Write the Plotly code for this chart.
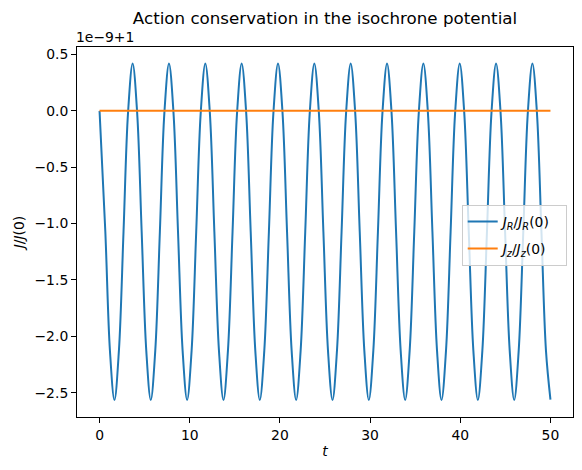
import plotly.graph_objects as go

# time samples (extrema and intermediate points of each cycle)
t_R = [0.0, 0.64, 1.15,
       1.65, 2.15, 2.66, 3.16, 3.67, 4.17, 4.67, 5.18,
       5.68, 6.18, 6.69, 7.19, 7.70, 8.20, 8.70, 9.21,
       9.71, 10.21, 10.72, 11.22, 11.73, 12.23, 12.73, 13.24,
       13.74, 14.24, 14.75, 15.25, 15.76, 16.26, 16.76, 17.27,
       17.77, 18.27, 18.78, 19.28, 19.79, 20.29, 20.79, 21.30,
       21.80, 22.30, 22.81, 23.31, 23.82, 24.32, 24.82, 25.33,
       25.83, 26.33, 26.84, 27.34, 27.85, 28.35, 28.85, 29.36,
       29.86, 30.36, 30.87, 31.37, 31.88, 32.38, 32.88, 33.39,
       33.89, 34.39, 34.90, 35.40, 35.91, 36.41, 36.91, 37.42,
       37.92, 38.42, 38.93, 39.43, 39.94, 40.44, 40.94, 41.45,
       41.95, 42.45, 42.96, 43.46, 43.97, 44.47, 44.97, 45.48,
       45.98, 46.48, 46.99, 47.49, 48.00, 48.50, 49.00, 49.50,
       50.0]
# J_R/J_R(0) - 1, in units of 1e-9
v_R = [0.0, -1.07, -2.124,
       -2.565, -2.124, -1.07, -0.016, 0.42, -0.016, -1.07, -2.124,
       -2.565, -2.124, -1.07, -0.016, 0.42, -0.016, -1.07, -2.124,
       -2.565, -2.124, -1.07, -0.016, 0.42, -0.016, -1.07, -2.124,
       -2.565, -2.124, -1.07, -0.016, 0.42, -0.016, -1.07, -2.124,
       -2.565, -2.124, -1.07, -0.016, 0.42, -0.016, -1.07, -2.124,
       -2.565, -2.124, -1.07, -0.016, 0.42, -0.016, -1.07, -2.124,
       -2.565, -2.124, -1.07, -0.016, 0.42, -0.016, -1.07, -2.124,
       -2.565, -2.124, -1.07, -0.016, 0.42, -0.016, -1.07, -2.124,
       -2.565, -2.124, -1.07, -0.016, 0.42, -0.016, -1.07, -2.124,
       -2.565, -2.124, -1.07, -0.016, 0.42, -0.016, -1.07, -2.124,
       -2.565, -2.124, -1.07, -0.016, 0.42, -0.016, -1.07, -2.124,
       -2.565, -2.124, -1.07, -0.016, 0.42, -0.016, -1.07, -2.124,
       -2.56]

t_z = [0.0, 50.0]
v_z = [0.0, 0.0]

x_ticks = [0, 10, 20, 30, 40, 50]
y_ticks = [-2.5, -2.0, -1.5, -1.0, -0.5, 0.0, 0.5]

font = "DejaVu Sans"

fig = go.Figure()
fig.add_trace(go.Scatter(x=t_R, y=v_R, mode="lines", line=dict(color="#1f77b4", width=2, shape="spline", smoothing=1),
                         legendgroup="R",
                         name="<i>J<sub>R</sub></i>/<i>J<sub>R</sub></i>(0)\u00a0\u00a0"))
fig.add_trace(go.Scatter(x=t_z, y=v_z, mode="lines", line=dict(color="#ff7f0e", width=2),
                         legendgroup="z",
                         name="<i>J<sub>z</sub></i>/<i>J<sub>z</sub></i>(0)\u00a0\u00a0"))

axis_common = dict(showline=True, linecolor="black", linewidth=1, mirror=True,
                   ticks="outside", ticklen=5, tickwidth=1, tickcolor="black",
                   showgrid=False, zeroline=False,
                   tickfont=dict(family=font, size=13.9, color="black"))

fig.update_layout(
    width=582, height=470,
    margin=dict(l=77, r=9, t=47, b=53),
    plot_bgcolor="white", paper_bgcolor="white",
    font=dict(family=font, color="black"),
    title=dict(text="Action conservation in the isochrone potential", x=(77 + 573) / 2 / 582, xanchor="center",
               y=1 - 18 / 470, yanchor="middle", font=dict(size=16.7, family=font)),
    xaxis=dict(range=[-2.5, 52.5], tickvals=x_ticks, tickformat="d",
               title=dict(text="<i>t</i>", font=dict(size=13.9, family=font), standoff=4), **axis_common),
    yaxis=dict(range=[-2.715, 0.566], tickvals=y_ticks, tickformat=".1f",
               title=dict(text="<i>J</i>/<i>J</i>(0)", font=dict(size=13.9, family=font), standoff=6), **axis_common),
    legend=dict(x=0.9873, xanchor="right", y=(417 - 205) / 370, yanchor="top",
                bgcolor="rgba(255,255,255,0.8)", bordercolor="#cccccc", borderwidth=1,
                font=dict(size=13.9, family=font), itemwidth=30, tracegroupgap=6,
                traceorder="grouped"),
    showlegend=True,
)
fig.add_annotation(text="1e\u22129+1", xref="paper", yref="paper", x=0, y=1, xanchor="left", yanchor="bottom",
                   showarrow=False, font=dict(size=13.9, family=font), xshift=-3, yshift=0)

fig.write_html("out.html")
